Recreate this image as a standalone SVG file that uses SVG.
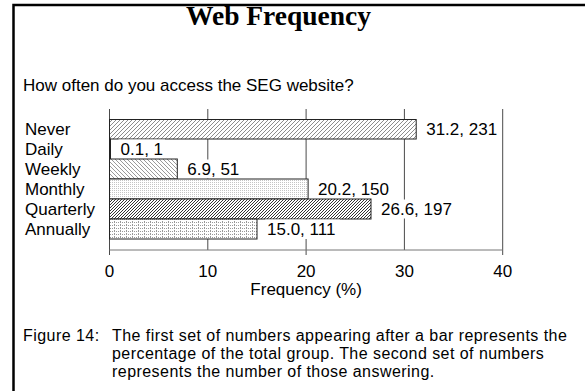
<svg xmlns="http://www.w3.org/2000/svg" width="585" height="391" viewBox="0 0 585 391">
<style>
.t{font-family:"Liberation Sans",Arial,sans-serif;font-size:17px;fill:#000}
.cap{font-family:"Liberation Sans",Arial,sans-serif;font-size:16px;letter-spacing:0.45px;fill:#000}
.title{font-family:"Liberation Serif","Times New Roman",serif;font-size:27.5px;font-weight:bold;fill:#000}
.grid{stroke:#4a4a4a;stroke-width:1;fill:none}
.bar{stroke:#222;stroke-width:1}
.bg{fill:#fff}
</style>
<defs>
<pattern id="pNever" width="4" height="4" patternUnits="userSpaceOnUse"><rect width="4" height="4" fill="#fff"/><path d="M-1,1 L1,-1 M0,4 L4,0 M3,5 L5,3" stroke="#8c8c8c" stroke-width="1"/></pattern>
<pattern id="pWeekly" width="4" height="4" patternUnits="userSpaceOnUse"><rect width="4" height="4" fill="#fff"/><path d="M-1,3 L1,5 M0,0 L4,4 M3,-1 L5,1" stroke="#9a9a9a" stroke-width="1"/></pattern>
<pattern id="pMonthly" width="2" height="2" patternUnits="userSpaceOnUse"><rect width="2" height="2" fill="#fff"/><rect width="1" height="1" fill="#c4c4c4"/></pattern>
<pattern id="pQuarterly" width="3" height="3" patternUnits="userSpaceOnUse"><rect width="3" height="3" fill="#fff"/><path d="M-1,1 L1,-1 M0,3 L3,0 M2,4 L4,2" stroke="#333" stroke-width="1"/></pattern>
<pattern id="pAnnually" width="6" height="3" patternUnits="userSpaceOnUse"><rect width="6" height="3" fill="#fff"/><rect x="0" y="0" width="1" height="1" fill="#999"/><rect x="2" y="0" width="1" height="1" fill="#999"/><rect x="4" y="0" width="1" height="1" fill="#999"/><rect x="0" y="2" width="1" height="1" fill="#999"/></pattern>
</defs>
<rect width="585" height="391" fill="#fff"/>
<path d="M13.5,391 V5 H585" fill="none" stroke="#000" stroke-width="2.5"/>
<text class="title" x="278.5" y="25" text-anchor="middle">Web Frequency</text>
<text class="t" x="23" y="91">How often do you access the SEG website?</text>
<g id="gridlines">
<line class="grid" x1="207.8" y1="109" x2="207.8" y2="250"/>
<line class="grid" x1="306.1" y1="109" x2="306.1" y2="255"/>
<line class="grid" x1="404.4" y1="109" x2="404.4" y2="250"/>
<line class="grid" x1="502.7" y1="109" x2="502.7" y2="255"/>
<line class="grid" x1="109.5" y1="109" x2="109.5" y2="255"/>
<line x1="109.5" y1="250" x2="502.7" y2="250" stroke="#777" stroke-width="1"/>
</g>
<g id="never"><rect class="bar" x="109.5" y="119.5" width="306.7" height="19.5" fill="url(#pNever)"/><text class="t" x="25" y="135">Never</text><rect class="bg" x="424" y="120" width="75" height="18.5"/><text class="t" x="426.2" y="135">31.2, 231</text></g>
<g id="daily"><rect class="bar" x="109.5" y="139" width="1" height="20" fill="#000"/><text class="t" x="25" y="155">Daily</text><rect class="bg" x="118.5" y="139.5" width="46.5" height="19"/><text class="t" x="120.5" y="155">0.1, 1</text></g>
<g id="weekly"><rect class="bar" x="109.5" y="159" width="67.8" height="20" fill="url(#pWeekly)"/><text class="t" x="25" y="175">Weekly</text><rect class="bg" x="185.3" y="159.5" width="56" height="19"/><text class="t" x="187.3" y="175">6.9, 51</text></g>
<g id="monthly"><rect class="bar" x="109.5" y="179" width="198.6" height="20" fill="url(#pMonthly)"/><text class="t" x="25" y="195">Monthly</text><rect class="bg" x="316.1" y="179.5" width="75" height="19"/><text class="t" x="318.1" y="195">20.2, 150</text></g>
<g id="quarterly"><rect class="bar" x="109.5" y="199" width="261.5" height="20" fill="url(#pQuarterly)"/><text class="t" x="25" y="215">Quarterly</text><rect class="bg" x="379" y="199.5" width="75" height="19"/><text class="t" x="381" y="215">26.6, 197</text></g>
<g id="annually"><rect class="bar" x="109.5" y="219" width="147.5" height="20" fill="url(#pAnnually)"/><text class="t" x="25" y="235">Annually</text><rect class="bg" x="265" y="219.5" width="75" height="19.5"/><text class="t" x="267" y="235">15.0, 111</text></g>
<g id="axis-labels">
<text class="t" x="109.5" y="276.5" text-anchor="middle">0</text>
<text class="t" x="207.8" y="276.5" text-anchor="middle">10</text>
<text class="t" x="306.1" y="276.5" text-anchor="middle">20</text>
<text class="t" x="404.4" y="276.5" text-anchor="middle">30</text>
<text class="t" x="502.7" y="276.5" text-anchor="middle">40</text>
<text class="t" x="306.1" y="295" text-anchor="middle">Frequency (%)</text>
</g>
<g id="caption">
<text class="cap" x="23" y="341">Figure 14:</text>
<text class="cap" x="112" y="341">The first set of numbers appearing after a bar represents the</text>
<text class="cap" x="112" y="359.2">percentage of the total group. The second set of numbers</text>
<text class="cap" x="112" y="377.4">represents the number of those answering.</text>
</g>
</svg>
